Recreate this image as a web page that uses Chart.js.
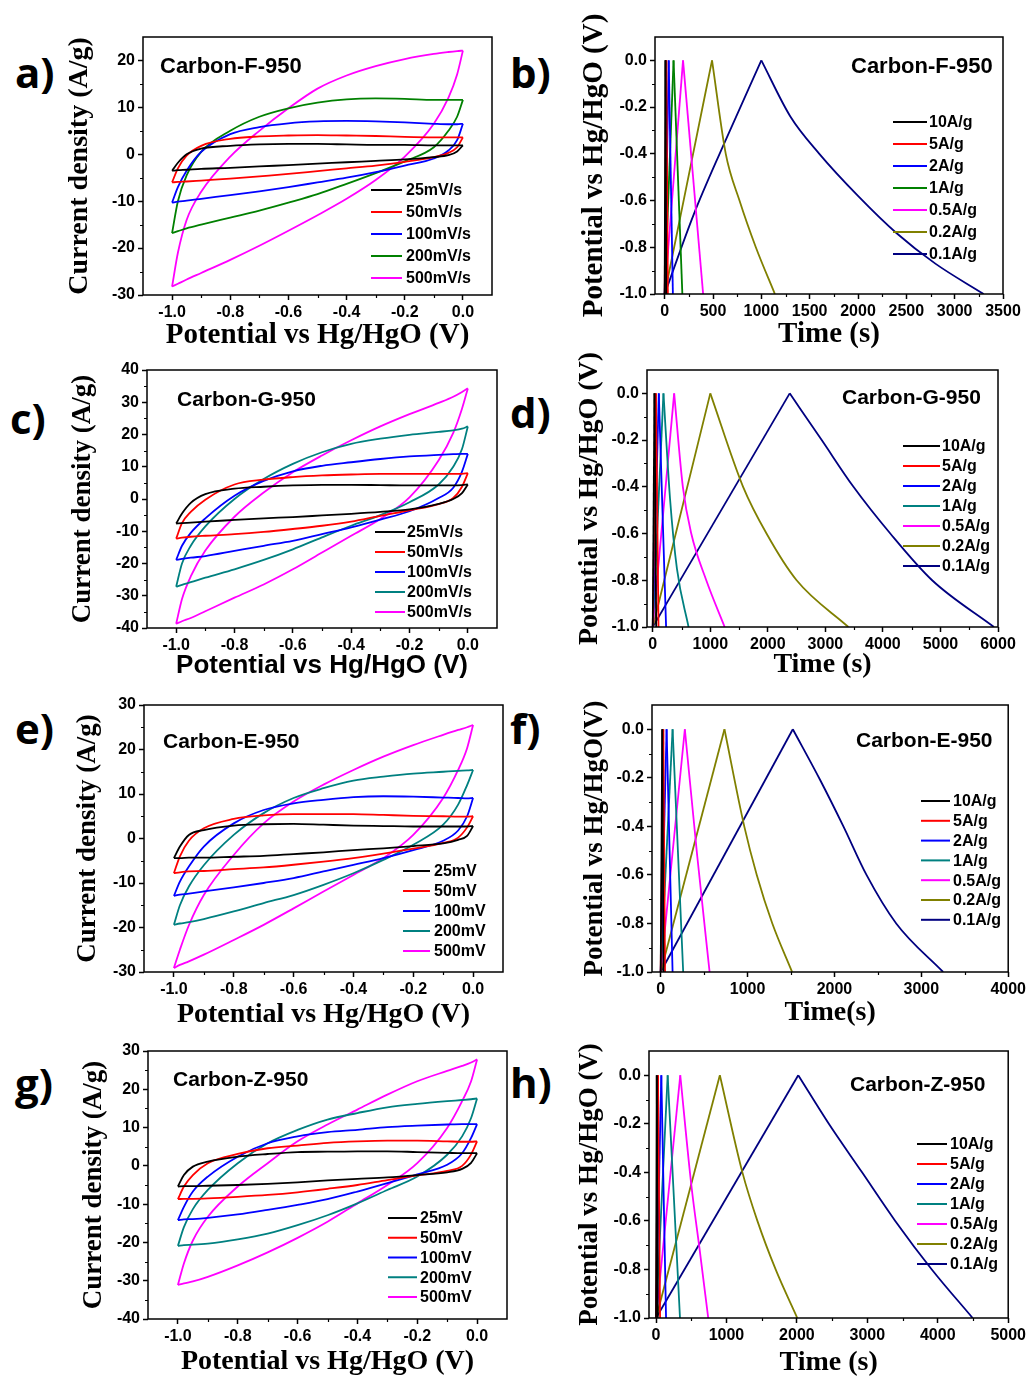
<!DOCTYPE html>
<html>
<head>
<meta charset="utf-8">
<script src="https://cdn.jsdelivr.net/npm/chart.js@4.4.1/dist/chart.umd.min.js"></script>
<style>
  body { margin: 0; background: #fff; }
  #page { position: relative; width: 1029px; height: 1378px; overflow: hidden; background: #fff; }
  #page canvas { position: absolute; }
  .tag { position: absolute; font: bold 42px "Open Sans", "Liberation Sans", sans-serif; line-height: 42px; color: #000; }
</style>
</head>
<body>
<div id="page">
  <div class="tag" style="left:15px;top:51px">a)</div>
  <div class="tag" style="left:510px;top:51px">b)</div>
  <div class="tag" style="left:10px;top:397px">c)</div>
  <div class="tag" style="left:510px;top:391px">d)</div>
  <div class="tag" style="left:15px;top:707px">e)</div>
  <div class="tag" style="left:510px;top:707px">f)</div>
  <div class="tag" style="left:15px;top:1062px">g)</div>
  <div class="tag" style="left:510px;top:1061px">h)</div>
</div>
<script>
// ---- data ----
const CV_X = [-1, -0.98, -0.95, -0.9, -0.8, -0.7, -0.6, -0.5, -0.4, -0.3, -0.2, -0.1, -0.05, -0.02, 0];

const CV_LABELS_S = ["25mV/s", "50mV/s", "100mV/s", "200mV/s", "500mV/s"];
const CV_LABELS_M = ["25mV", "50mV", "100mV", "200mV", "500mV"];
const GCD_LABELS = ["10A/g", "5A/g", "2A/g", "1A/g", "0.5A/g", "0.2A/g", "0.1A/g"];

// a) Carbon-F-950 CV, anodic (up) and cathodic (dn) branches on CV_X
const A_UP = [
  [-3.5, -1.8, 0.0, 1.2, 1.8, 2.1, 2.2, 2.2, 2.1, 2.0, 2.0, 1.9, 1.9, 1.9, 1.9],
  [-6.0, -3.0, -0.3, 1.8, 3.3, 3.8, 4.0, 4.1, 4.0, 3.9, 3.7, 3.6, 3.6, 3.6, 3.6],
  [-10.3, -7.0, -3.5, 0.5, 4.3, 5.8, 6.6, 7.0, 7.1, 7.0, 6.8, 6.5, 6.4, 6.4, 6.5],
  [-16.8, -10.0, -4.5, 0.5, 5.0, 8.0, 9.8, 11.0, 11.7, 11.9, 11.8, 11.6, 11.6, 11.6, 11.6],
  [-28.2, -21.0, -14.0, -8.0, -0.5, 5.0, 9.8, 14.0, 16.8, 18.8, 20.3, 21.4, 21.8, 22.0, 22.1]
];
const A_DN = [
  [-3.5, -3.4, -3.3, -3.1, -2.9, -2.6, -2.3, -2.0, -1.7, -1.4, -1.1, -0.6, -0.2, 0.6, 1.9],
  [-6.0, -5.9, -5.8, -5.6, -5.2, -4.7, -4.2, -3.6, -3.0, -2.4, -1.6, -0.6, 0.3, 1.5, 3.6],
  [-10.3, -10.1, -9.9, -9.5, -8.7, -7.9, -7.0, -6.0, -5.0, -3.8, -2.4, -0.9, 0.8, 3.0, 6.5],
  [-16.8, -16.4, -15.8, -15.0, -13.5, -12.0, -10.3, -8.5, -6.3, -4.0, -1.5, 1.5, 5.0, 8.0, 11.6],
  [-28.2, -27.6, -26.7, -25.3, -22.5, -19.5, -16.3, -13.0, -9.5, -5.5, -0.5, 6.5, 12.0, 17.0, 22.1]
];

// c) Carbon-G-950 CV
const C_UP = [
  [-7.6, -4.5, -1.2, 1.5, 3.2, 3.8, 4.2, 4.4, 4.4, 4.3, 4.2, 4.2, 4.2, 4.3, 4.5],
  [-12.3, -7.5, -4.0, -0.2, 4.5, 6.0, 6.8, 7.3, 7.6, 7.8, 7.8, 7.8, 7.8, 7.8, 8.0],
  [-18.9, -14.5, -10.5, -6.0, 1.0, 5.6, 8.6, 10.3, 11.4, 12.4, 13.2, 13.7, 13.9, 14.0, 14.0],
  [-27.2, -20.0, -14.5, -8.5, 0.0, 6.2, 10.9, 14.5, 17.1, 18.7, 19.9, 20.8, 21.3, 21.8, 22.5],
  [-38.7, -31.0, -24.0, -16.0, -5.5, 2.0, 8.3, 13.5, 18.2, 22.5, 26.3, 29.8, 31.7, 33.2, 34.3]
];
const C_DN = [
  [-7.6, -7.5, -7.3, -7.0, -6.5, -6.0, -5.6, -5.1, -4.6, -4.0, -3.2, -1.5, 0.0, 1.8, 4.5],
  [-12.3, -12.0, -11.7, -11.4, -10.9, -10.2, -9.3, -8.3, -7.0, -5.2, -3.5, -1.6, 0.3, 3.8, 8.0],
  [-18.9, -18.6, -18.2, -17.7, -16.1, -14.5, -13.0, -10.9, -8.8, -6.4, -3.8, 0.3, 3.5, 8.5, 14.0],
  [-27.2, -26.6, -25.8, -24.4, -21.8, -18.9, -15.6, -11.9, -8.3, -5.0, -1.0, 4.5, 10.0, 15.5, 22.5],
  [-38.7, -37.9, -36.9, -34.8, -30.6, -26.5, -21.8, -16.6, -11.4, -6.2, 0.5, 12.0, 20.5, 28.0, 34.3]
];

// e) Carbon-E-950 CV
const E_UP = [
  [-4.4, -1.8, 0.8, 1.9, 2.9, 3.2, 3.3, 3.1, 2.9, 2.8, 2.7, 2.7, 2.7, 2.7, 2.8],
  [-7.8, -4.0, -0.5, 2.3, 4.4, 5.2, 5.5, 5.5, 5.5, 5.3, 5.1, 5.0, 4.9, 4.9, 5.0],
  [-12.9, -9.7, -6.3, -1.8, 3.4, 6.4, 7.9, 8.7, 9.3, 9.5, 9.4, 9.2, 9.1, 9.0, 9.1],
  [-19.4, -15.0, -10.8, -6.0, 0.8, 5.7, 9.1, 11.3, 13.0, 13.9, 14.6, 15.0, 15.2, 15.3, 15.4],
  [-29.1, -25.0, -19.5, -12.7, -3.7, 3.4, 8.3, 12.1, 15.4, 18.4, 21.0, 23.3, 24.4, 25.0, 25.5]
];
const E_DN = [
  [-4.4, -4.4, -4.3, -4.3, -4.1, -3.9, -3.5, -3.1, -2.6, -2.2, -1.7, -1.1, -0.3, 0.6, 2.8],
  [-7.8, -7.6, -7.4, -7.3, -6.9, -6.5, -5.9, -5.2, -4.4, -3.4, -2.3, -1.0, 0.2, 2.5, 5.0],
  [-12.9, -12.6, -12.4, -11.9, -11.0, -10.0, -8.9, -7.4, -5.9, -4.4, -2.6, -0.5, 1.8, 5.0, 9.1],
  [-19.4, -19.1, -18.8, -18.1, -16.4, -14.5, -12.7, -10.4, -7.8, -4.8, -1.4, 3.1, 7.6, 12.0, 15.4],
  [-29.1, -28.4, -27.6, -26.1, -22.8, -19.4, -15.7, -11.9, -8.2, -4.4, 0.8, 9.1, 15.4, 20.3, 25.5]
];

// g) Carbon-Z-950 CV
const G_UP = [
  [-5.4, -2.4, -0.2, 1.1, 2.4, 3.1, 3.6, 3.7, 3.8, 3.8, 3.6, 3.4, 3.3, 3.3, 3.3],
  [-8.7, -5.4, -2.4, 0.7, 3.1, 4.6, 5.3, 6.0, 6.4, 6.6, 6.6, 6.4, 6.3, 6.3, 6.4],
  [-14.2, -10.7, -6.7, -2.8, 2.4, 5.9, 7.7, 8.8, 9.4, 10.1, 10.5, 10.8, 10.9, 10.9, 10.9],
  [-20.9, -16.0, -11.3, -6.3, 0.7, 5.9, 9.4, 12.1, 13.8, 15.3, 16.2, 16.9, 17.2, 17.4, 17.6],
  [-31.1, -25.5, -19.5, -13.3, -5.4, 0.7, 6.4, 10.8, 14.7, 18.6, 22.1, 24.8, 26.1, 27.0, 27.8]
];
const G_DN = [
  [-5.4, -5.3, -5.3, -5.2, -5.0, -4.7, -4.3, -3.8, -3.4, -3.0, -2.4, -1.7, -0.8, 0.8, 3.3],
  [-8.7, -8.6, -8.6, -8.5, -8.1, -7.6, -6.9, -6.0, -5.0, -3.7, -2.5, -1.3, 0.0, 3.0, 6.4],
  [-14.2, -14.0, -13.9, -13.6, -12.7, -11.5, -10.2, -8.7, -6.7, -4.5, -2.2, 0.3, 3.3, 7.3, 10.9],
  [-20.9, -20.7, -20.6, -20.3, -19.2, -17.7, -15.5, -12.9, -9.8, -6.3, -2.8, 2.9, 7.7, 12.5, 17.6],
  [-31.1, -30.7, -30.2, -29.0, -26.0, -22.6, -18.8, -14.6, -9.8, -5.0, 0.7, 9.9, 16.9, 22.1, 27.8]
];

// galvanostatic charge/discharge: time (s) and potential (V), one row per current
const B_T = [
  [0, 8, 16],
  [0, 17, 33],
  [0, 42, 85],
  [0, 92, 183],
  [0, 190, 398],
  [0, 250, 490, 632, 774, 943, 1140],
  [0, 300, 600, 1000, 1300, 1600, 2000, 2400, 2800, 3300]
];
const B_V = [
  [-1, 0, -1],
  [-1, 0, -1],
  [-1, 0, -1],
  [-1, 0, -1],
  [-1, 0, -1],
  [-1, -0.49, 0, -0.4, -0.6, -0.8, -1],
  [-1, -0.66, -0.37, 0, -0.24, -0.4, -0.58, -0.74, -0.87, -1]
];

const D_T = [
  [0, 30, 60],
  [0, 55, 100],
  [0, 105, 232],
  [0, 186, 300, 420, 622],
  [0, 372, 523, 669, 930, 1250],
  [0, 1000, 1570, 1977, 2500, 3400],
  [0, 2380, 2936, 3488, 4128, 4855, 5930]
];
const D_V = [
  [-1, 0, -1],
  [-1, 0, -1],
  [-1, 0, -1],
  [-1, 0, -0.45, -0.75, -1],
  [-1, 0, -0.4, -0.6, -0.8, -1],
  [-1, 0, -0.4, -0.6, -0.8, -1],
  [-1, 0, -0.2, -0.4, -0.6, -0.8, -1]
];

const F_T = [
  [0, 18, 32],
  [0, 30, 50],
  [0, 68, 137],
  [0, 137, 259],
  [0, 278, 420, 563],
  [0, 734, 962, 1106, 1285, 1513],
  [0, 1521, 1837, 2103, 2369, 2711, 3251]
];
const F_V = [
  [-1, 0, -1],
  [-1, 0, -1],
  [-1, 0, -1],
  [-1, 0, -1],
  [-1, 0, -0.52, -1],
  [-1, 0, -0.4, -0.6, -0.8, -1],
  [-1, 0, -0.21, -0.4, -0.6, -0.8, -1]
];

const H_T = [
  [0, 10, 25],
  [0, 28, 57],
  [0, 75, 142],
  [0, 165, 340],
  [0, 344, 500, 620, 741],
  [0, 906, 1226, 1439, 1698, 2005],
  [0, 2019, 2453, 2925, 3396, 3915, 4495]
];
const H_V = [
  [-1, 0, -1],
  [-1, 0, -1],
  [-1, 0, -1],
  [-1, 0, -1],
  [-1, 0, -0.45, -0.72, -1],
  [-1, 0, -0.4, -0.6, -0.8, -1],
  [-1, 0, -0.2, -0.4, -0.6, -0.8, -1]
];

// tick labels
const CV_XTICKS = [-1.0, -0.8, -0.6, -0.4, -0.2, 0.0];
const A_YTICKS = [-30, -20, -10, 0, 10, 20];
const C_YTICKS = [-40, -30, -20, -10, 0, 10, 20, 30, 40];
const E_YTICKS = [-30, -20, -10, 0, 10, 20, 30];
const G_YTICKS = [-40, -30, -20, -10, 0, 10, 20, 30];
const GCD_YTICKS = [-1.0, -0.8, -0.6, -0.4, -0.2, 0.0];
const B_XTICKS = [0, 500, 1000, 1500, 2000, 2500, 3000, 3500];
const D_XTICKS = [0, 1000, 2000, 3000, 4000, 5000, 6000];
const F_XTICKS = [0, 1000, 2000, 3000, 4000];
const H_XTICKS = [0, 1000, 2000, 3000, 4000, 5000];

// line colours
const CV_COLORS_A = ["#000000", "#ff0000", "#0000ff", "#008000", "#ff00ff"];
const CV_COLORS = ["#000000", "#ff0000", "#0000ff", "#008080", "#ff00ff"];
const GCD_COLORS_B = ["#000000", "#ff0000", "#0000ff", "#008000", "#ff00ff", "#808000", "#000080"];
const GCD_COLORS = ["#000000", "#ff0000", "#0000ff", "#008080", "#ff00ff", "#808000", "#000080"];

// ---- layout (page px) ----
const SANS = '"Liberation Sans", Arial, sans-serif';
const SERIF = '"Liberation Serif", "Times New Roman", serif';
const CV_Y = "Current density (A/g)";
const CV_XT = "Potential vs Hg/HgO (V)";

const PANELS = [
  { kind: "cv", canvas: [55, 0, 455, 352], area: [143, 37, 492, 295], xr: [-1.1, 0.1], yr: [-30, 25],
    xt: CV_XTICKS, yt: A_YTICKS, xm: 0.1, ym: 5, up: A_UP, dn: A_DN, labels: CV_LABELS_S, colors: CV_COLORS_A,
    name: "Carbon-F-950", nameAt: [160, 67, 22], leg: [371, 402, 406, 190, 22],
    yTitle: CV_Y, yTitleX: 80, yTitleSize: 28, xTitle: CV_XT, xTitleY: 336, xTitleSize: 29, xTitleFont: SERIF },
  { kind: "gcd", canvas: [555, 0, 474, 352], area: [655, 37, 1003, 294], xr: [-100, 3500], yr: [-1, 0.1],
    xt: B_XTICKS, yt: GCD_YTICKS, xm: 250, ym: 0.1, t: B_T, v: B_V, labels: GCD_LABELS, colors: GCD_COLORS_B,
    name: "Carbon-F-950", nameAt: [851, 67, 22], leg: [893, 927, 929, 122, 22],
    yTitle: "Potential vs Hg/HgO (V)", yTitleX: 595, yTitleSize: 29, xTitle: "Time (s)", xTitleY: 335, xTitleSize: 29, xTitleFont: SERIF },
  { kind: "cv", canvas: [55, 352, 455, 340], area: [147, 370, 497, 628], xr: [-1.1, 0.1], yr: [-40, 40],
    xt: CV_XTICKS, yt: C_YTICKS, xm: 0.1, ym: 5, up: C_UP, dn: C_DN, labels: CV_LABELS_S, colors: CV_COLORS,
    name: "Carbon-G-950", nameAt: [177, 400, 21], leg: [375, 405, 407, 532, 20],
    yTitle: CV_Y, yTitleX: 83, yTitleSize: 27, xTitle: CV_XT, xTitleY: 666, xTitleSize: 26, xTitleFont: SANS },
  { kind: "gcd", canvas: [555, 352, 474, 340], area: [647, 370, 998, 627], xr: [-100, 6000], yr: [-1, 0.1],
    xt: D_XTICKS, yt: GCD_YTICKS, xm: 500, ym: 0.1, t: D_T, v: D_V, labels: GCD_LABELS, colors: GCD_COLORS,
    name: "Carbon-G-950", nameAt: [842, 398, 21], leg: [903, 940, 942, 446, 20],
    yTitle: "Potential vs Hg/HgO (V)", yTitleX: 590, yTitleSize: 28, xTitle: "Time (s)", xTitleY: 665, xTitleSize: 28, xTitleFont: SERIF },
  { kind: "cv", canvas: [55, 692, 455, 340], area: [144, 705, 503, 972], xr: [-1.1, 0.1], yr: [-30, 30],
    xt: CV_XTICKS, yt: E_YTICKS, xm: 0.1, ym: 5, up: E_UP, dn: E_DN, labels: CV_LABELS_M, colors: CV_COLORS,
    name: "Carbon-E-950", nameAt: [163, 742, 21], leg: [403, 430, 434, 871, 20],
    yTitle: CV_Y, yTitleX: 88, yTitleSize: 27, xTitle: CV_XT, xTitleY: 1015, xTitleSize: 28, xTitleFont: SERIF },
  { kind: "gcd", canvas: [555, 692, 474, 340], area: [652, 705, 1010, 972], xr: [-100, 4000], yr: [-1, 0.1],
    xt: F_XTICKS, yt: GCD_YTICKS, xm: 500, ym: 0.1, t: F_T, v: F_V, labels: GCD_LABELS, colors: GCD_COLORS,
    name: "Carbon-E-950", nameAt: [856, 741, 21], leg: [921, 950, 953, 801, 19.8],
    yTitle: "Potential vs Hg/HgO(V)", yTitleX: 595, yTitleSize: 27, xTitle: "Time(s)", xTitleY: 1013, xTitleSize: 28, xTitleFont: SERIF },
  { kind: "cv", canvas: [55, 1032, 455, 346], area: [148, 1051, 507, 1319], xr: [-1.1, 0.1], yr: [-40, 30],
    xt: CV_XTICKS, yt: G_YTICKS, xm: 0.1, ym: 5, up: G_UP, dn: G_DN, labels: CV_LABELS_M, colors: CV_COLORS,
    name: "Carbon-Z-950", nameAt: [173, 1080, 21], leg: [388, 417, 420, 1218, 19.75],
    yTitle: CV_Y, yTitleX: 94, yTitleSize: 27, xTitle: CV_XT, xTitleY: 1362, xTitleSize: 28, xTitleFont: SERIF },
  { kind: "gcd", canvas: [555, 1032, 474, 346], area: [649, 1051, 1009, 1318], xr: [-100, 5000], yr: [-1, 0.1],
    xt: H_XTICKS, yt: GCD_YTICKS, xm: 500, ym: 0.1, t: H_T, v: H_V, labels: GCD_LABELS, colors: GCD_COLORS,
    name: "Carbon-Z-950", nameAt: [850, 1085, 21], leg: [917, 947, 950, 1144, 20],
    yTitle: "Potential vs Hg/HgO (V)", yTitleX: 590, yTitleSize: 27, xTitle: "Time (s)", xTitleY: 1363, xTitleSize: 28, xTitleFont: SERIF }
];

// frame, minor ticks, sample name and legend
const decor = {
  id: "decor",
  afterDraw(chart, args, o) {
    const { ctx, chartArea: a, scales: { x, y } } = chart;
    ctx.save();
    ctx.strokeStyle = "#000";
    ctx.lineWidth = 1.5;
    ctx.strokeRect(a.left, a.top, a.right - a.left, a.bottom - a.top);

    const minor = (scale, step, major, horiz) => {
      const n0 = Math.ceil(scale.min / step - 1e-9), n1 = Math.floor(scale.max / step + 1e-9);
      ctx.beginPath();
      for (let n = n0; n <= n1; n++) {
        const v = n * step;
        if (major.some(m => Math.abs(m - v) < step * 1e-3)) continue;
        if (Math.abs(v - scale.min) < step * 1e-3 || Math.abs(v - scale.max) < step * 1e-3) continue;
        const px = Math.round(scale.getPixelForValue(v)) + 0.5;
        if (horiz) { ctx.moveTo(px, a.bottom); ctx.lineTo(px, a.bottom + 3); }
        else { ctx.moveTo(a.left, px); ctx.lineTo(a.left - 3, px); }
      }
      ctx.stroke();
    };
    ctx.lineWidth = 1.2;
    minor(x, o.xm, o.xt, true);
    minor(y, o.ym, o.yt, false);

    ctx.fillStyle = "#000";
    ctx.textBaseline = "middle";
    ctx.textAlign = "left";
    ctx.font = `bold ${o.nameAt[2]}px ${SANS}`;
    ctx.fillText(o.name, o.nameAt[0] - o.cx, o.nameAt[1] - o.cy);

    const [lx1, lx2, tx, ly, step] = o.leg;
    ctx.font = `bold 16px ${SANS}`;
    o.labels.forEach((lab, i) => {
      const yy = ly + i * step - o.cy;
      ctx.strokeStyle = o.colors[i];
      ctx.lineWidth = 2;
      ctx.beginPath();
      ctx.moveTo(lx1 - o.cx, yy);
      ctx.lineTo(lx2 - o.cx, yy);
      ctx.stroke();
      ctx.fillStyle = "#000";
      ctx.fillText(lab, tx - o.cx, yy + 1);
    });
    ctx.restore();
  }
};

function lineSet(points, color) {
  return {
    data: points, borderColor: color, borderWidth: 1.8, pointRadius: 0,
    showLine: true, fill: false, cubicInterpolationMode: "monotone"
  };
}

function buildDatasets(p) {
  const sets = [];
  if (p.kind === "cv") {
    p.up.forEach((row, i) => {
      sets.push(lineSet(CV_X.map((x, k) => ({ x, y: row[k] })), p.colors[i]));
      sets.push(lineSet(CV_X.map((x, k) => ({ x, y: p.dn[i][k] })), p.colors[i]));
    });
  } else {
    p.t.forEach((ts, i) => {
      const vs = p.v[i];
      const pk = vs.indexOf(Math.max(...vs));
      const pts = ts.map((t, k) => ({ x: t, y: vs[k] }));
      sets.push(lineSet(pts.slice(0, pk + 1), p.colors[i]));
      sets.push(lineSet(pts.slice(pk), p.colors[i]));
    });
  }
  return sets;
}

const page = document.getElementById("page");

PANELS.forEach(p => {
  const [cx, cy, cw, ch] = p.canvas;
  const [al, at, ar, ab] = p.area;
  const cv = document.createElement("canvas");
  cv.width = cw; cv.height = ch;
  cv.style.left = cx + "px"; cv.style.top = cy + "px";
  page.appendChild(cv);

  const padL = p.yTitleX - p.yTitleSize / 2 - cx;
  const wY = al - cx - padL;
  const padT = at - cy;
  const padR = cx + cw - ar;
  const hX = p.xTitleY + p.xTitleSize / 2 - ab;
  const padB = cy + ch - (p.xTitleY + p.xTitleSize / 2);

  const isCv = p.kind === "cv";
  const fmtX = v => isCv ? v.toFixed(1) : String(v);
  const fmtY = v => isCv ? String(v) : v.toFixed(1);
  const tickFont = { family: SANS, weight: "bold", size: 16 };
  const grid = { drawOnChartArea: false, drawTicks: true, tickLength: 5, tickWidth: 1.5, tickColor: "#000" };

  new Chart(cv.getContext("2d"), {
    type: "scatter",
    data: { datasets: buildDatasets(p) },
    options: {
      responsive: false,
      animation: false,
      devicePixelRatio: 1,
      events: [],
      layout: { padding: { left: padL, top: padT, right: padR, bottom: padB } },
      plugins: {
        legend: { display: false },
        tooltip: { enabled: false },
        decor: {
          cx, cy, xm: p.xm, ym: p.ym, xt: p.xt, yt: p.yt, name: p.name, nameAt: p.nameAt,
          leg: p.leg, labels: p.labels, colors: p.colors
        }
      },
      scales: {
        x: {
          type: "linear", position: "bottom", min: p.xr[0], max: p.xr[1],
          afterBuildTicks: s => { s.ticks = p.xt.map(v => ({ value: v })); },
          afterFit: s => { s.height = hX; },
          ticks: { autoSkip: false, maxRotation: 0, color: "#000", font: tickFont, padding: 3, callback: fmtX },
          grid, border: { display: false },
          title: { display: true, text: p.xTitle, color: "#000", padding: 0,
                   font: { family: p.xTitleFont, weight: "bold", size: p.xTitleSize, lineHeight: 1 } }
        },
        y: {
          type: "linear", position: "left", min: p.yr[0], max: p.yr[1],
          afterBuildTicks: s => { s.ticks = p.yt.map(v => ({ value: v })); },
          afterFit: s => { s.width = wY; },
          ticks: { autoSkip: false, color: "#000", font: tickFont, padding: 3, callback: fmtY },
          grid, border: { display: false },
          title: { display: true, text: p.yTitle, color: "#000", padding: 0,
                   font: { family: SERIF, weight: "bold", size: p.yTitleSize, lineHeight: 1 } }
        }
      }
    },
    plugins: [decor]
  });
});
</script>
</body>
</html>
